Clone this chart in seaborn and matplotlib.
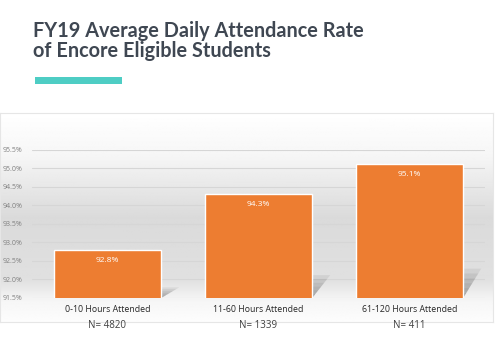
import numpy as np
import matplotlib
matplotlib.use("Agg")
import matplotlib.pyplot as plt
import seaborn as sns
from matplotlib.patches import Polygon, Rectangle
from matplotlib.ticker import FuncFormatter

# data
categories = ["0-10 Hours Attended", "11-60 Hours Attended", "61-120 Hours Attended"]
attendance = [92.8, 94.3, 95.1]
n_counts = [4820, 1339, 411]
title = "FY19 Average Daily Attendance Rate\nof Encore Eligible Students"

sns.set_theme(style="white")
plt.rcParams["font.family"] = ["Open Sans", "DejaVu Sans"]

fig = plt.figure(figsize=(5, 3.52), dpi=100)
fig.patch.set_facecolor("white")

# title block
fig.text(0.066, 0.94, title, ha="left", va="top", fontsize=14.3,
         fontweight="bold", color="#3f4752", linespacing=1.0,
         family=["Lato", "DejaVu Sans"])
fig.add_artist(Rectangle((0.07, 0.762), 0.174, 0.019, transform=fig.transFigure,
                         facecolor="#4ecdc4", edgecolor="none"))

# gradient panel behind the chart
bg = fig.add_axes([0.0, 30 / 352, 493 / 500, 209 / 352], zorder=0)
stops = [0.0, 0.2, 0.5, 0.8, 0.9, 1.0]
shade = [1.0, 0.965, 0.855, 0.88, 0.965, 0.99]
grad = np.interp(np.linspace(0, 1, 200), stops, shade)
bg.imshow(np.tile(grad[:, None], (1, 2)), aspect="auto", cmap="gray",
          vmin=0, vmax=1, extent=(0, 1, 0, 1))
bg.set_xticks([])
bg.set_yticks([])
for s in bg.spines.values():
    s.set_color("#e6e6e6")
    s.set_linewidth(0.8)

ax = fig.add_axes([32 / 500, 54 / 352, 453 / 500, 148.5 / 352], zorder=1)
ax.patch.set_alpha(0)
sns.barplot(x=categories, y=attendance, color="#ED7D31", width=0.71,
            saturation=1, ax=ax, zorder=3)
ax.set_ylim(91.5, 95.5)
ax.set_xlim(-0.5, 2.5)
ax.set_yticks(np.linspace(91.5, 95.5, 9))
ax.yaxis.set_major_formatter(FuncFormatter(lambda v, p: f"{v:.1f}%"))
ax.yaxis.grid(True, color="#d6d6d6", linewidth=0.8)
ax.set_axisbelow(True)
sns.despine(ax=ax, left=True, bottom=True)
ax.tick_params(axis="y", length=0, labelsize=5, labelcolor="#808080", pad=7)
ax.tick_params(axis="x", length=0, labelsize=6.3, labelcolor="#262626", pad=5)
ax.set_xlabel("")
ax.set_ylabel("")

# soft shadows and value labels
base = ax.get_ylim()[0]
for bar, val, n in zip(ax.patches, attendance, n_counts):
    x0 = bar.get_x()
    x1 = x0 + bar.get_width()
    dy = 0.22 * (val - base)
    dx = 0.12
    for k in range(6):
        f = 1 - k / 6
        ax.add_patch(Polygon([(x0, base), (x1, base), (x1 + dx * f, base + dy * f),
                              (x0 + dx * f, base + dy * f)],
                             closed=True, facecolor="#555555", alpha=0.1,
                             edgecolor="none", zorder=2))
    cx = x0 + bar.get_width() / 2
    ax.annotate(f"{val:.1f}%", (cx, val), xytext=(0, -5), textcoords="offset points",
                ha="center", va="top", fontsize=6, color="white", zorder=4)
    ax.annotate(f"N= {n}", (cx, 0), xycoords=("data", "axes fraction"),
                xytext=(0, -16), textcoords="offset points",
                ha="center", va="top", fontsize=7, color="#404040")

fig.savefig("out.png", dpi=100)
